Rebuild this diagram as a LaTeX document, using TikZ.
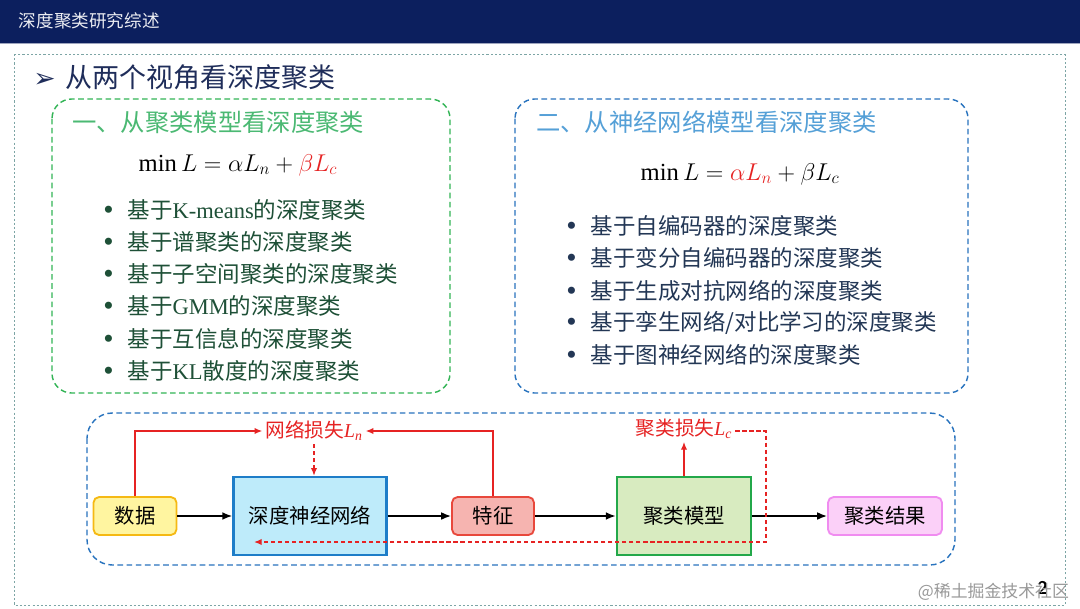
\documentclass[tikz,border=0pt]{standalone}
\usepackage{fontspec}
\setmainfont{Liberation Serif}
\newfontfamily\cjk{Noto Sans CJK SC}
\newfontfamily\symfont{DejaVu Sans}
\usepackage{tikz}
\usetikzlibrary{arrows.meta}
\definecolor{barblue}{RGB}{12,31,94}
\definecolor{frameteal}{RGB}{125,165,165}
\definecolor{headblue}{RGB}{31,45,90}
\definecolor{boxgreen}{RGB}{50,180,85}
\definecolor{headgreen}{RGB}{75,185,115}
\definecolor{itemgreen}{RGB}{30,80,55}
\definecolor{boxblue}{RGB}{40,115,190}
\definecolor{headlblue}{RGB}{85,160,215}
\definecolor{itemblue}{RGB}{35,55,85}
\definecolor{lossred}{RGB}{230,35,35}
\newcommand{\dotmark}{{\rmfamily\fontsize{21}{16}\selectfont\raisebox{-0.5pt}{•}}\hspace{10pt}}

\begin{document}
\begin{tikzpicture}[x=0.025cm,y=-0.025cm,
    item/.style={anchor=west, inner sep=0pt, font=\fontsize{16}{18}\selectfont\cjk},
    stage/.style={draw, line width=1.3pt, minimum height=0.95cm, rounded corners=4pt,
      font=\fontsize{14.5}{16}\selectfont\cjk},
    block/.style={draw, line width=1.8pt, minimum width=3.35cm, minimum height=1.95cm,
      font=\fontsize{14.5}{16}\selectfont\cjk},
    flow/.style={-{Latex[length=7pt,width=5.5pt]}, line width=1.1pt},
    lossline/.style={-{Latex[length=5.5pt,width=4.5pt]}, lossred, line width=0.9pt},
    lossdash/.style={lossline, dash pattern=on 3pt off 2pt},
    losslabel/.style={text=lossred, inner sep=2pt, font=\fontsize{14}{16}\selectfont\cjk}]

  \useasboundingbox (0,0) rectangle (1080,608);
  \fill[white] (0,0) rectangle (1080,608);
  \fill[barblue] (0,0) rectangle (1080,43);
  \draw[white!60!barblue, line width=0.6pt] (0,43) -- (1080,43);
  \node[anchor=west, text=white!92!barblue, font=\fontsize{12.5}{14}\selectfont\cjk] (title) at (14,21) {深度聚类研究综述};
  \draw[frameteal, line width=0.7pt, dash pattern=on 1.5pt off 1.5pt] (14,54) rectangle (1065,605);

  \node[anchor=west, text=headblue, inner sep=0pt] (heading) at (33,77)
    {{\symfont\fontsize{19}{20}\selectfont ➢}\hspace{7pt}{\cjk\fontsize{19.2}{22}\selectfont 从两个视角看深度聚类}};

  \draw[boxgreen, line width=1pt, dash pattern=on 4pt off 2.5pt, rounded corners=14pt] (52,99) rectangle (450,393);
  \node[anchor=west, inner sep=0pt, text=headgreen, font=\fontsize{17.3}{20}\selectfont\cjk] (lhead) at (72,122) {一、从聚类模型看深度聚类};
  \node[font=\fontsize{17.5}{20}\selectfont] (lformula) at (238,165) {$\min L = \alpha L_n + {\color{lossred}\beta L_c}$};
  \begin{scope}[text=itemgreen]
    \node[item] (l1) at (103,210) {\dotmark\cjk 基于{\rmfamily K-means}的深度聚类};
    \node[item] (l2) at (103,242) {\dotmark\cjk 基于谱聚类的深度聚类};
    \node[item] (l3) at (103,274) {\dotmark\cjk 基于子空间聚类的深度聚类};
    \node[item] (l4) at (103,306) {\dotmark\cjk 基于{\rmfamily GMM}的深度聚类};
    \node[item] (l5) at (103,339) {\dotmark\cjk 基于互信息的深度聚类};
    \node[item] (l6) at (103,371) {\dotmark\cjk 基于{\rmfamily KL}散度的深度聚类};
  \end{scope}

  \draw[boxblue, line width=1pt, dash pattern=on 4pt off 2.5pt, rounded corners=14pt] (515,99) rectangle (968,393);
  \node[anchor=west, inner sep=0pt, text=headlblue, font=\fontsize{17.3}{20}\selectfont\cjk] (rhead) at (536,122) {二、从神经网络模型看深度聚类};
  \node[font=\fontsize{17.5}{20}\selectfont] (rformula) at (740,174) {$\min L = {\color{lossred}\alpha L_n} + \beta L_c$};
  \begin{scope}[text=itemblue]
    \node[item] (r1) at (566,226) {\dotmark\cjk 基于自编码器的深度聚类};
    \node[item] (r2) at (566,258) {\dotmark\cjk 基于变分自编码器的深度聚类};
    \node[item] (r3) at (566,291) {\dotmark\cjk 基于生成对抗网络的深度聚类};
    \node[item] (r4) at (566,323) {\dotmark\cjk 基于孪生网络/对比学习的深度聚类};
    \node[item] (r5) at (566,355) {\dotmark\cjk 基于图神经网络的深度聚类};
  \end{scope}

  \draw[boxblue, line width=1pt, dash pattern=on 4pt off 2.5pt, rounded corners=18pt] (87,413) rectangle (955,565);

  \node[stage, draw={rgb,255:red,245;green,185;blue,20}, fill={rgb,255:red,255;green,245;blue,160}, minimum width=2.075cm] (data) at (135,516) {数据};
  \node[block, draw={rgb,255:red,30;green,125;blue,200}, fill={rgb,255:red,190;green,235;blue,250}, minimum width=3.825cm] (dnn) at (310,516) {深度神经网络};
  \node[stage, draw={rgb,255:red,232;green,72;blue,60}, fill={rgb,255:red,246;green,180;blue,176}, minimum width=2.05cm] (feat) at (493,516) {特征};
  \node[block, draw={rgb,255:red,35;green,168;blue,74}, fill={rgb,255:red,216;green,235;blue,192}] (clus) at (684,516) {聚类模型};
  \node[stage, draw={rgb,255:red,240;green,140;blue,240}, fill={rgb,255:red,251;green,208;blue,248}, minimum width=2.85cm] (result) at (885,516) {聚类结果};

  \draw[flow] (data) -- (dnn);
  \draw[flow] (dnn) -- (feat);
  \draw[flow] (feat) -- (clus);
  \draw[flow] (clus) -- (result);

  \node[losslabel] (nloss) at (314,431) {网络损失{\rmfamily\itshape L\textsubscript{n}}};
  \node[losslabel] (closs) at (684,429) {聚类损失{\rmfamily\itshape L\textsubscript{c}}};
  \draw[lossline] (data.north) -- (data.north |- nloss.west) -- (nloss.west);
  \draw[lossline] (feat.north) -- (feat.north |- nloss.east) -- (nloss.east);
  \draw[lossdash] (nloss.south) -- (nloss.south |- dnn.north);
  \draw[lossline] (clus.north) -- (clus.north |- closs.south);
  \coordinate (cturn) at (766,431);
  \coordinate (cbot) at (766,542);
  \coordinate (cend) at (254,542);
  \draw[lossdash] (closs.east |- cturn) -- (cturn) -- (cbot) -- (cend);

  \node[font=\fontsize{13}{15}\selectfont\bfseries\sffamily] (pagenum) at (1043,588) {2};
  \node[anchor=west, text=black!40, font=\fontsize{12}{14}\selectfont\cjk] (mark) at (913,592) {@稀土掘金技术社区};
\end{tikzpicture}
\end{document}
